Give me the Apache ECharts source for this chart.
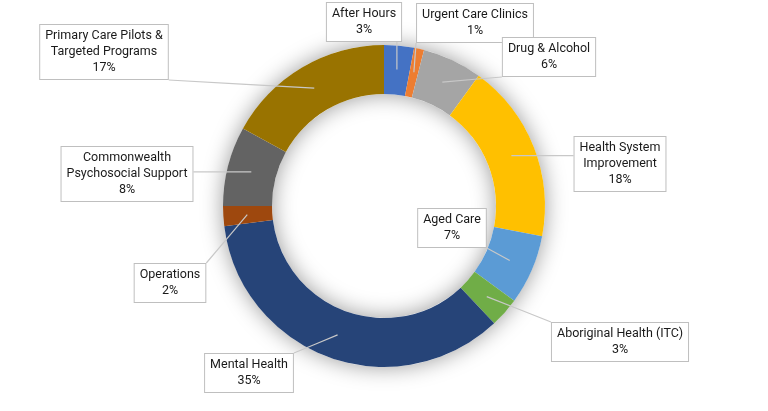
<!DOCTYPE html>
<html lang="en">
<head>
<meta charset="UTF-8">
<title>Funding by program</title>
<script src="https://cdn.jsdelivr.net/npm/echarts@6/dist/echarts.min.js"></script>
<style>
    html, body { margin: 0; padding: 0; background: #fff; }
    #chart { width: 768px; height: 411px; }
</style>
</head>
<body>
<div id="chart"></div>
<script>
    var names = ['After Hours', 'Urgent Care Clinics', 'Drug & Alcohol', 'Health System\nImprovement', 'Aged Care',
        'Aboriginal Health (ITC)', 'Mental Health', 'Operations', 'Commonwealth\nPsychosocial Support',
        'Primary Care Pilots &\nTargeted Programs'];
    var values = [3, 1, 6, 18, 7, 3, 35, 2, 8, 17];
    var colors = ['#4472C4', '#ED7D31', '#A5A5A5', '#FFC000', '#5B9BD5', '#70AD47', '#264478', '#9E480E', '#636363', '#997300'];

    // centre of each callout box, px
    var labelPos = [[364, 22], [475, 23], [549, 57], [620, 164], [452, 228], [620, 342], [249, 373], [170, 283], [127, 174], [104, 52]];

    var ringData = [], calloutData = [];
    for (var i = 0; i < names.length; i++) {
        ringData.push({name: names[i], value: values[i], itemStyle: {color: colors[i]}});
        calloutData.push({name: names[i], value: values[i]});
    }

    var ring = {center: ['50%', 206], radius: [112, 161]};

    var option = {
        animation: false,
        series: [
            {
                // soft shadow under the ring
                type: 'pie',
                silent: true,
                center: ring.center,
                radius: ring.radius,
                label: {show: false},
                labelLine: {show: false},
                itemStyle: {color: '#fff', shadowBlur: 22, shadowColor: 'rgba(0,0,0,0.4)'},
                data: [1],
                z: 1
            },
            {
                type: 'pie',
                center: ring.center,
                radius: ring.radius,
                startAngle: 90,
                clockwise: true,
                silent: true,
                label: {show: false},
                labelLine: {show: false},
                data: ringData,
                z: 2
            },
            {
                // callouts drawn on top of the ring
                type: 'pie',
                center: ring.center,
                radius: ring.radius,
                startAngle: 90,
                clockwise: true,
                silent: true,
                avoidLabelOverlap: false,
                z: 3,
                itemStyle: {color: 'rgba(0,0,0,0)'},
                label: {
                    show: true,
                    position: 'outside',
                    formatter: function (p) {
                        return p.name + '\n' + Math.round(p.percent) + '%';
                    },
                    fontFamily: 'Roboto',
                    fontSize: 12.5,
                    lineHeight: 16,
                    color: '#1a1a1a',
                    align: 'center',
                    backgroundColor: '#fff',
                    borderColor: '#bfbfbf',
                    borderWidth: 1,
                    padding: [3, 5]
                },
                labelLine: {
                    show: true,
                    length: 15,
                    length2: 10,
                    lineStyle: {color: '#c8c8c8', width: 1.2}
                },
                labelLayout: function (params) {
                    var p = labelPos[params.dataIndex];
                    var w = params.labelRect.width, h = params.labelRect.height;
                    var pts = params.labelLinePoints;
                    var dx = pts[1][0] - pts[0][0], dy = pts[1][1] - pts[0][1];
                    var len = Math.sqrt(dx * dx + dy * dy) || 1;
                    var tip = [pts[0][0] - dx / len * 24, pts[0][1] - dy / len * 24];
                    var left = p[0] - w / 2, top = p[1] - h / 2;
                    var end = [Math.min(Math.max(tip[0], left), left + w), Math.min(Math.max(tip[1], top), top + h)];
                    return {
                        x: p[0],
                        y: p[1],
                        align: 'center',
                        verticalAlign: 'middle',
                        labelLinePoints: [tip, [(tip[0] + end[0]) / 2, (tip[1] + end[1]) / 2], end]
                    };
                },
                data: calloutData
            }
        ]
    };

    var myChart = echarts.init(document.getElementById('chart'));
    myChart.setOption(option);
</script>
</body>
</html>
